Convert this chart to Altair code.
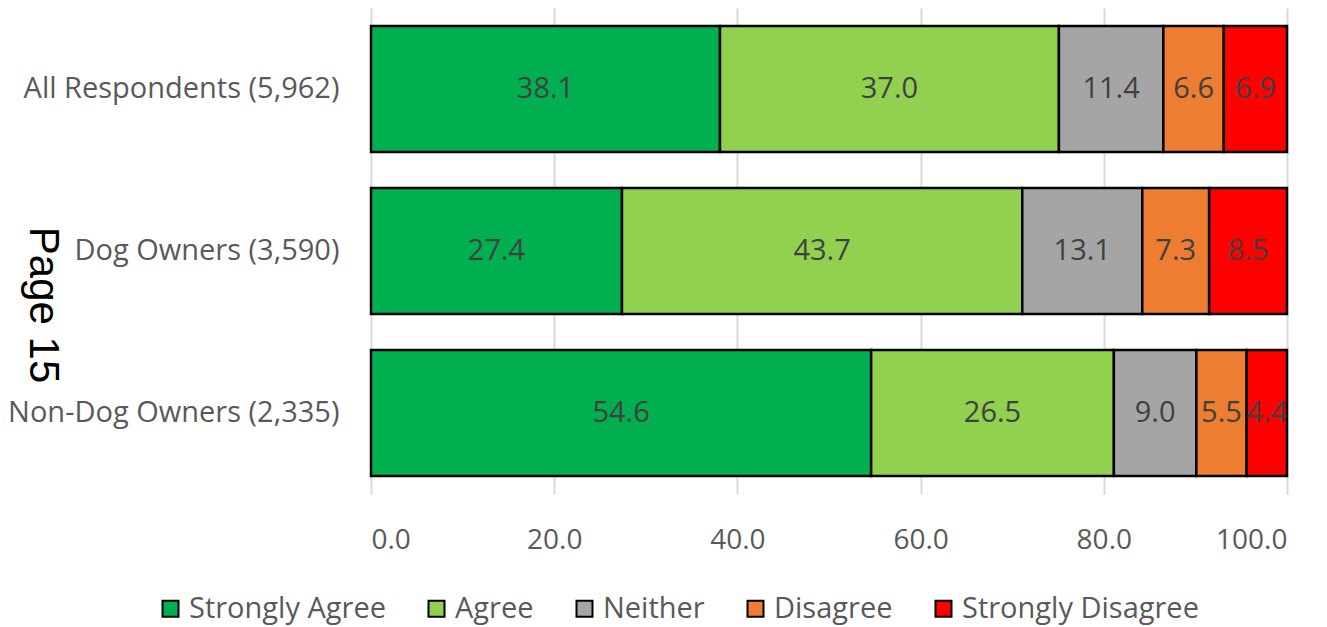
import altair as alt
import pandas as pd

groups = ["All Respondents (5,962)", "Dog Owners (3,590)", "Non-Dog Owners (2,335)"]
responses = ["Strongly Agree", "Agree", "Neither", "Disagree", "Strongly Disagree"]
colors = ["#00B050", "#92D050", "#A5A5A5", "#ED7D31", "#FF0000"]
values = {
    "All Respondents (5,962)": [38.1, 37.0, 11.4, 6.6, 6.9],
    "Dog Owners (3,590)": [27.4, 43.7, 13.1, 7.3, 8.5],
    "Non-Dog Owners (2,335)": [54.6, 26.5, 9.0, 5.5, 4.4],
}
x_ticks = [0, 20, 40, 60, 80, 100]

rows = []
for g in groups:
    for i, r in enumerate(responses):
        rows.append({"group": g, "response": r, "order": i, "value": values[g][i]})
df = pd.DataFrame(rows)

FONT = "Open Sans"
FS = 28

base = alt.Chart(df).transform_stack(
    stack="value", groupby=["group"], as_=["start", "end"],
    sort=[alt.SortField("order", order="ascending")]
).transform_calculate(mid="(datum.start + datum.end) / 2")

yenc = alt.Y("group:N", sort=groups, title=None,
             scale=alt.Scale(paddingInner=0.222, paddingOuter=0.111),
             axis=alt.Axis(labelFontSize=FS + 1, labelColor="#595959", labelFont=FONT,
                           ticks=False, domain=False, labelPadding=32, labelLimit=500))

bars = base.mark_bar(stroke="black", strokeWidth=2.5).encode(
    x=alt.X("start:Q", scale=alt.Scale(domain=[0, 100], nice=False), title=None,
            axis=alt.Axis(values=x_ticks, format=".1f", labelFontSize=FS, labelColor="#595959",
                          labelFont=FONT, ticks=False, domain=False, labelPadding=32,
                          grid=True, gridColor="#D9D9D9", gridWidth=2)),
    x2="end:Q",
    y=yenc,
    color=alt.Color("response:N", sort=responses,
                    scale=alt.Scale(domain=responses, range=colors),
                    legend=alt.Legend(title=None, orient="none", direction="horizontal",
                                      legendX=-215, legendY=586, symbolType="square",
                                      symbolSize=256, symbolStrokeColor="black",
                                      symbolStrokeWidth=2, labelFontSize=FS + 1,
                                      labelColor="#595959", labelFont=FONT,
                                      columnPadding=36, labelOffset=4, labelLimit=500)),
)

labels = base.mark_text(fontSize=FS + 1, color="#404040", font=FONT).encode(
    x="mid:Q",
    y=alt.Y("group:N", sort=groups),
    text=alt.Text("value:Q", format=".1f"),
)

page = alt.Chart(pd.DataFrame({"t": ["Page 15"]})).mark_text(
    angle=90, fontSize=42, font="Liberation Sans", color="black",
    align="center", baseline="middle"
).encode(x=alt.value(-328), y=alt.value(297), text="t:N")

chart = alt.layer(bars, labels, page).properties(
    width=916, height=486,
    autosize=alt.AutoSizeParams(type="none"),
    padding={"left": 363, "top": 0, "right": 24, "bottom": 133},
).configure_view(stroke=None)

chart.save("out.html", embed_options={"renderer": "svg", "actions": False})
